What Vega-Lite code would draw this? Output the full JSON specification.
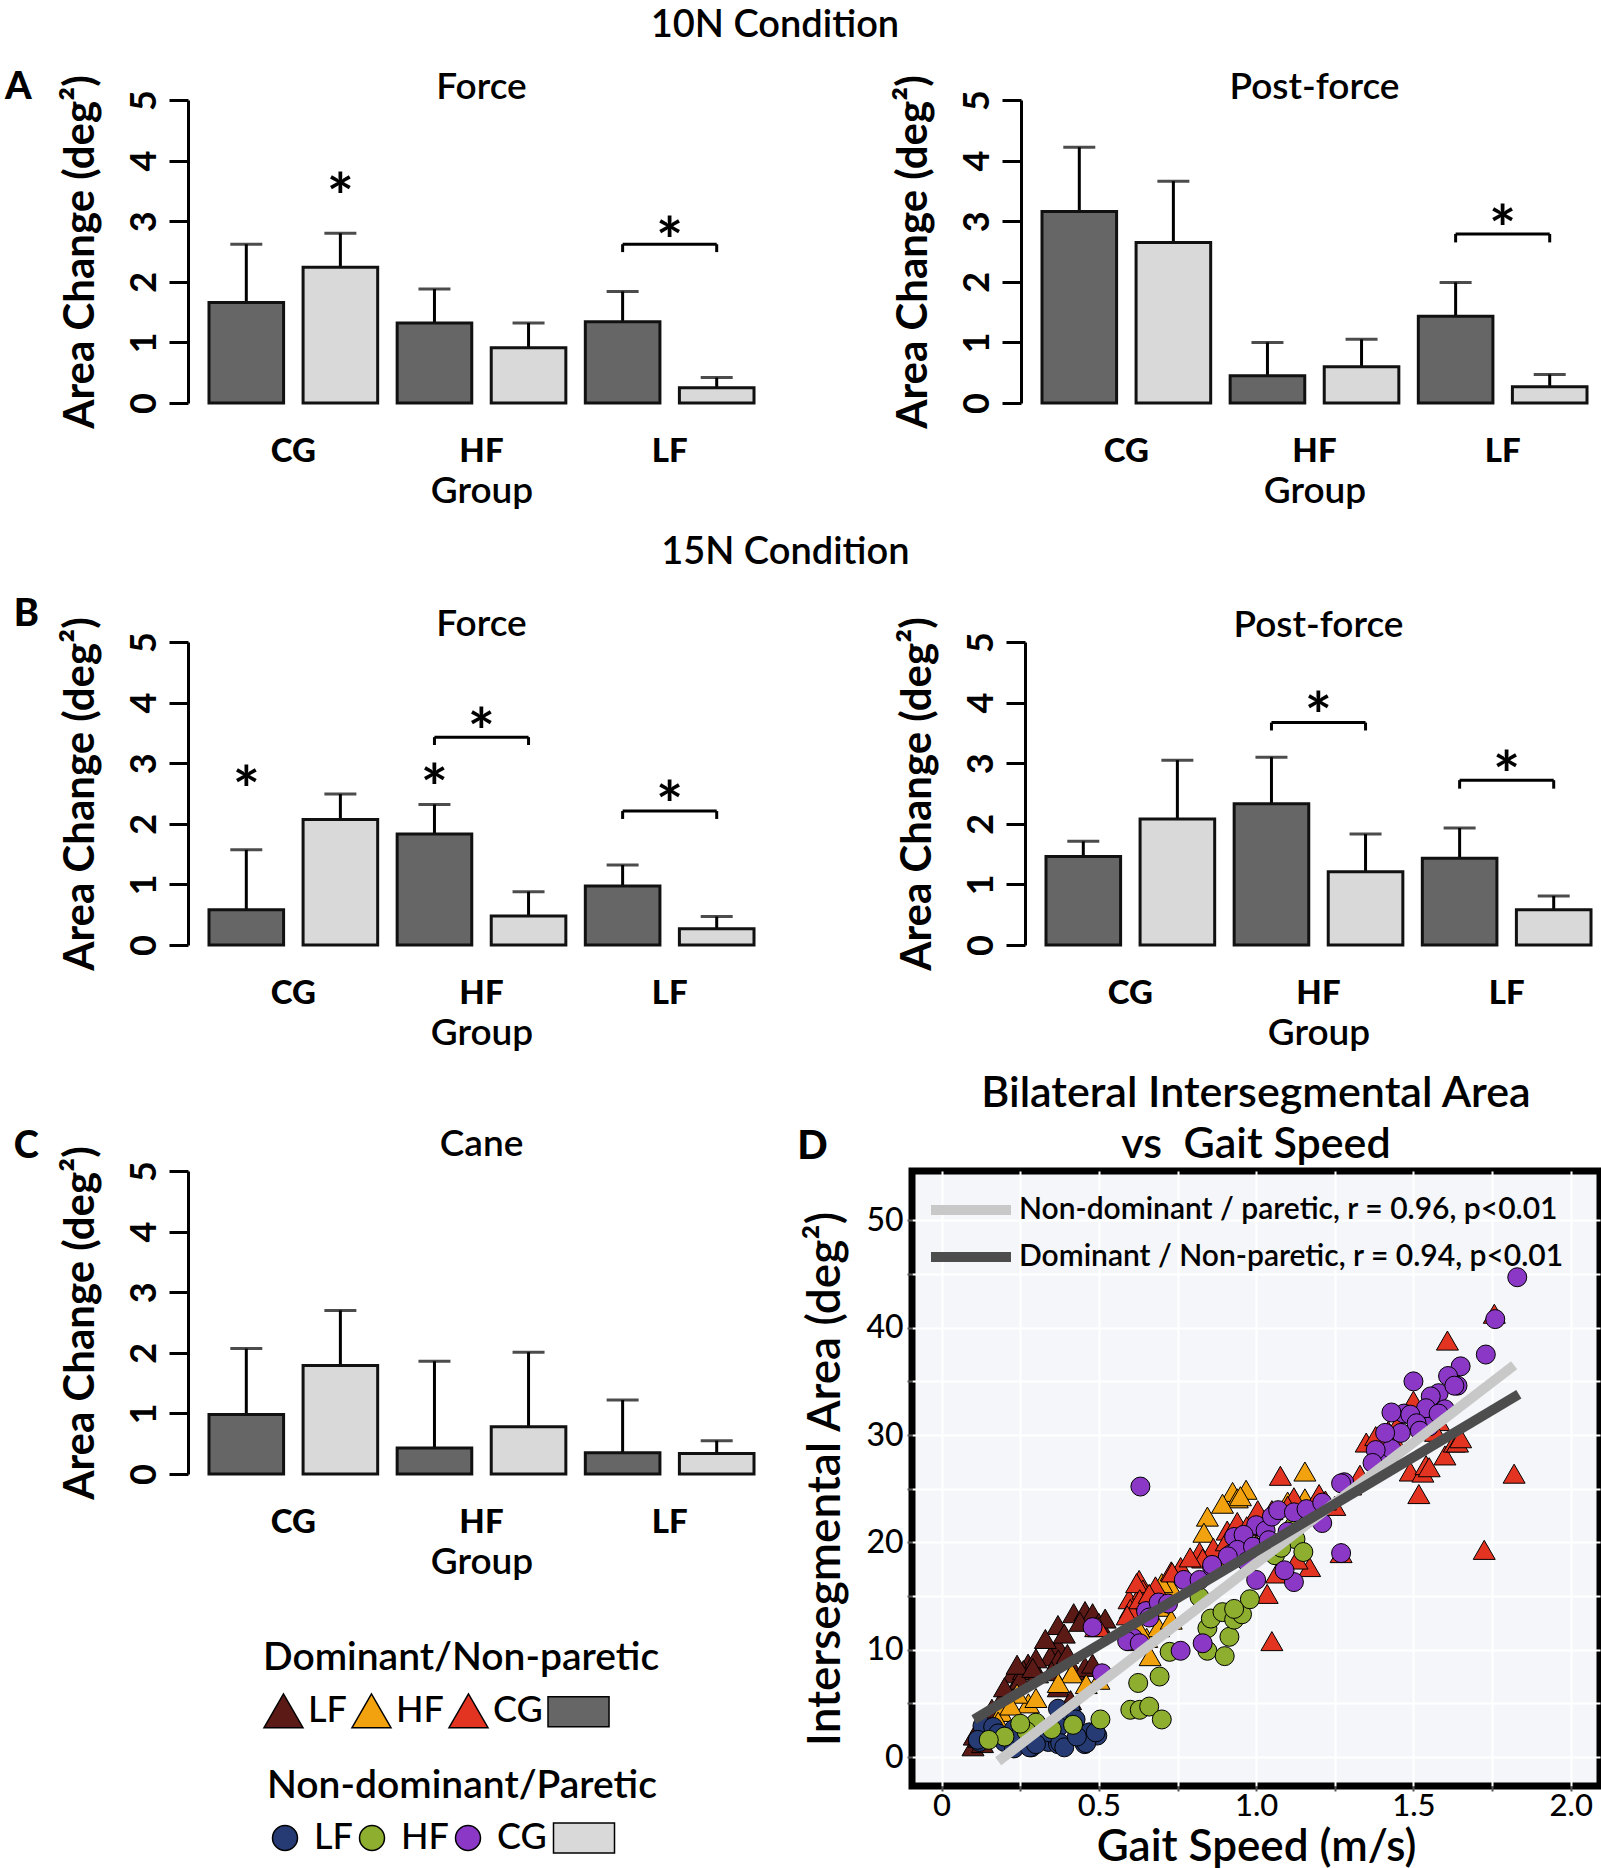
{
"$schema": "https://vega.github.io/schema/vega-lite/v6.json",
"padding": {"left": 4, "top": 6, "right": 0, "bottom": 2},
"spacing": 18,
"config": {"font": "Lato", "view": {"stroke": null}, "axis": {"labelColor": "#000", "titleColor": "#000"}, "title": {"color": "#000"}, "legend": {"labelColor": "#000", "titleColor": "#000"}},
"datasets": {
"bars": [
{"p":"A-F","bar":"CG-D","side":"D","m":1.66,"hi":2.62},{"p":"A-F","bar":"CG-N","side":"N","m":2.24,"hi":2.80},{"p":"A-F","bar":"HF-D","side":"D","m":1.32,"hi":1.88},{"p":"A-F","bar":"HF-N","side":"N","m":0.91,"hi":1.32},{"p":"A-F","bar":"LF-D","side":"D","m":1.34,"hi":1.84},{"p":"A-F","bar":"LF-N","side":"N","m":0.25,"hi":0.42},
{"p":"A-P","bar":"CG-D","side":"D","m":3.16,"hi":4.22},{"p":"A-P","bar":"CG-N","side":"N","m":2.65,"hi":3.66},{"p":"A-P","bar":"HF-D","side":"D","m":0.45,"hi":1.0},{"p":"A-P","bar":"HF-N","side":"N","m":0.60,"hi":1.05},{"p":"A-P","bar":"LF-D","side":"D","m":1.43,"hi":1.99},{"p":"A-P","bar":"LF-N","side":"N","m":0.27,"hi":0.47},
{"p":"B-F","bar":"CG-D","side":"D","m":0.58,"hi":1.57},{"p":"B-F","bar":"CG-N","side":"N","m":2.07,"hi":2.49},{"p":"B-F","bar":"HF-D","side":"D","m":1.83,"hi":2.32},{"p":"B-F","bar":"HF-N","side":"N","m":0.48,"hi":0.88},{"p":"B-F","bar":"LF-D","side":"D","m":0.975,"hi":1.32},{"p":"B-F","bar":"LF-N","side":"N","m":0.27,"hi":0.47},
{"p":"B-P","bar":"CG-D","side":"D","m":1.46,"hi":1.71},{"p":"B-P","bar":"CG-N","side":"N","m":2.08,"hi":3.05},{"p":"B-P","bar":"HF-D","side":"D","m":2.33,"hi":3.10},{"p":"B-P","bar":"HF-N","side":"N","m":1.21,"hi":1.83},{"p":"B-P","bar":"LF-D","side":"D","m":1.43,"hi":1.93},{"p":"B-P","bar":"LF-N","side":"N","m":0.58,"hi":0.81},
{"p":"C","bar":"CG-D","side":"D","m":0.98,"hi":2.07},{"p":"C","bar":"CG-N","side":"N","m":1.79,"hi":2.70},{"p":"C","bar":"HF-D","side":"D","m":0.43,"hi":1.86},{"p":"C","bar":"HF-N","side":"N","m":0.78,"hi":2.01},{"p":"C","bar":"LF-D","side":"D","m":0.35,"hi":1.22},{"p":"C","bar":"LF-N","side":"N","m":0.34,"hi":0.55}
],
"brackets": [
{"p":"A-F","x1":"LF-D","x2":"LF-N","b":2.62,"bt":2.49},
{"p":"A-P","x1":"LF-D","x2":"LF-N","b":2.79,"bt":2.65},
{"p":"B-F","x1":"HF-D","x2":"HF-N","b":3.43,"bt":3.30},
{"p":"B-F","x1":"LF-D","x2":"LF-N","b":2.21,"bt":2.08},
{"p":"B-P","x1":"HF-D","x2":"HF-N","b":3.67,"bt":3.54},
{"p":"B-P","x1":"LF-D","x2":"LF-N","b":2.72,"bt":2.58}
],
"stars": [
{"p":"A-F","bar":"CG-N","sy":3.57,"mid":false},
{"p":"A-F","bar":"LF-D","sy":2.84,"mid":true},
{"p":"A-P","bar":"LF-D","sy":3.03,"mid":true},
{"p":"B-F","bar":"CG-D","sy":2.72,"mid":false},
{"p":"B-F","bar":"HF-D","sy":2.75,"mid":false},
{"p":"B-F","bar":"HF-D","sy":3.68,"mid":true},
{"p":"B-F","bar":"LF-D","sy":2.48,"mid":true},
{"p":"B-P","bar":"HF-D","sy":3.95,"mid":true},
{"p":"B-P","bar":"LF-D","sy":2.97,"mid":true}
],
"letters": [
{"p":"A-F","t":"A","ly":5.25},
{"p":"B-F","t":"B","ly":5.5},
{"p":"C","t":"C","ly":5.45}
],
"fits": [
{"fit":"Non-dominant / paretic, r = 0.96, p<0.01","v":0.18,"a":-0.4},
{"fit":"Non-dominant / paretic, r = 0.96, p<0.01","v":1.82,"a":36.5},
{"fit":"Dominant / Non-paretic, r = 0.94, p<0.01","v":0.103,"a":3.5},
{"fit":"Dominant / Non-paretic, r = 0.94, p<0.01","v":1.835,"a":33.8}
],
"pts": [
{"s":"D","g":"LF","v":0.37,"a":12.3},{"s":"D","g":"LF","v":0.42,"a":13.4},{"s":"D","g":"LF","v":0.456,"a":13.6},{"s":"D","g":"LF","v":0.48,"a":13.4},{"s":"D","g":"LF","v":0.5,"a":12.5},{"s":"D","g":"LF","v":0.371,"a":10.3},{"s":"D","g":"LF","v":0.345,"a":9.4},{"s":"D","g":"LF","v":0.371,"a":9.1},{"s":"D","g":"LF","v":0.275,"a":8.7},{"s":"D","g":"LF","v":0.227,"a":7.8},{"s":"D","g":"LF","v":0.26,"a":8.1},{"s":"D","g":"LF","v":0.305,"a":7.8},{"s":"D","g":"LF","v":0.35,"a":8.0},{"s":"D","g":"LF","v":0.42,"a":8.1},{"s":"D","g":"LF","v":0.456,"a":8.4},{"s":"D","g":"LF","v":0.48,"a":8.7},{"s":"D","g":"LF","v":0.227,"a":6.2},{"s":"D","g":"LF","v":0.19,"a":5.3},{"s":"D","g":"LF","v":0.153,"a":3.8},{"s":"D","g":"LF","v":0.104,"a":2.0},{"s":"D","g":"LF","v":0.1,"a":1.0},{"s":"D","g":"LF","v":0.13,"a":1.3},{"s":"D","g":"LF","v":0.371,"a":6.5},{"s":"D","g":"LF","v":0.41,"a":5.3},{"s":"D","g":"LF","v":0.33,"a":11.0},{"s":"D","g":"LF","v":0.3,"a":9.2},{"s":"D","g":"LF","v":0.25,"a":7.2},{"s":"D","g":"LF","v":0.2,"a":6.5},{"s":"D","g":"LF","v":0.12,"a":1.8},{"s":"D","g":"LF","v":0.16,"a":4.5},{"s":"D","g":"LF","v":0.39,"a":11.5},{"s":"D","g":"LF","v":0.44,"a":12.6},{"s":"D","g":"LF","v":0.52,"a":12.9},{"s":"D","g":"LF","v":0.24,"a":8.6},{"s":"D","g":"LF","v":0.29,"a":8.3},{"s":"D","g":"LF","v":0.4,"a":9.6},
{"s":"D","g":"HF","v":0.925,"a":24.7},{"s":"D","g":"HF","v":0.968,"a":24.9},{"s":"D","g":"HF","v":0.94,"a":24.1},{"s":"D","g":"HF","v":0.893,"a":23.6},{"s":"D","g":"HF","v":0.845,"a":22.4},{"s":"D","g":"HF","v":0.834,"a":20.9},{"s":"D","g":"HF","v":0.728,"a":15.9},{"s":"D","g":"HF","v":0.69,"a":14.0},{"s":"D","g":"HF","v":0.61,"a":14.0},{"s":"D","g":"HF","v":0.652,"a":11.1},{"s":"D","g":"HF","v":0.663,"a":9.4},{"s":"D","g":"HF","v":0.414,"a":7.8},{"s":"D","g":"HF","v":0.371,"a":6.9},{"s":"D","g":"HF","v":0.5,"a":7.2},{"s":"D","g":"HF","v":0.276,"a":5.0},{"s":"D","g":"HF","v":0.24,"a":5.9},{"s":"D","g":"HF","v":0.19,"a":4.2},{"s":"D","g":"HF","v":0.18,"a":3.3},{"s":"D","g":"HF","v":0.69,"a":12.1},{"s":"D","g":"HF","v":1.155,"a":26.6},{"s":"D","g":"HF","v":1.155,"a":24.1},{"s":"D","g":"HF","v":0.95,"a":24.3},{"s":"D","g":"HF","v":0.62,"a":10.8},{"s":"D","g":"HF","v":0.3,"a":5.5},{"s":"D","g":"HF","v":0.22,"a":4.8},{"s":"D","g":"HF","v":0.73,"a":12.8},{"s":"D","g":"HF","v":1.0,"a":22.0},{"s":"D","g":"HF","v":1.1,"a":23.8},{"s":"D","g":"HF","v":0.88,"a":18.5},{"s":"D","g":"HF","v":0.46,"a":6.8},{"s":"D","g":"HF","v":0.63,"a":11.8},{"s":"D","g":"HF","v":0.7,"a":16.2},
{"s":"D","g":"CG","v":0.628,"a":16.5},{"s":"D","g":"CG","v":0.596,"a":14.7},{"s":"D","g":"CG","v":0.6,"a":13.8},{"s":"D","g":"CG","v":0.64,"a":15.6},{"s":"D","g":"CG","v":0.68,"a":15.9},{"s":"D","g":"CG","v":0.76,"a":17.7},{"s":"D","g":"CG","v":0.73,"a":17.3},{"s":"D","g":"CG","v":0.82,"a":19.1},{"s":"D","g":"CG","v":0.864,"a":19.5},{"s":"D","g":"CG","v":0.908,"a":21.1},{"s":"D","g":"CG","v":0.94,"a":21.9},{"s":"D","g":"CG","v":1.005,"a":23.0},{"s":"D","g":"CG","v":1.04,"a":20.5},{"s":"D","g":"CG","v":1.035,"a":15.2},{"s":"D","g":"CG","v":1.05,"a":10.8},{"s":"D","g":"CG","v":0.49,"a":12.1},{"s":"D","g":"CG","v":0.5,"a":12.1},{"s":"D","g":"CG","v":1.077,"a":26.2},{"s":"D","g":"CG","v":1.12,"a":24.2},{"s":"D","g":"CG","v":1.2,"a":24.5},{"s":"D","g":"CG","v":0.83,"a":18.5},{"s":"D","g":"CG","v":1.065,"a":17.1},{"s":"D","g":"CG","v":1.17,"a":17.7},{"s":"D","g":"CG","v":1.27,"a":19.0},{"s":"D","g":"CG","v":1.42,"a":30.4},{"s":"D","g":"CG","v":1.44,"a":29.5},{"s":"D","g":"CG","v":1.4,"a":29.0},{"s":"D","g":"CG","v":1.49,"a":26.6},{"s":"D","g":"CG","v":1.53,"a":26.5},{"s":"D","g":"CG","v":1.54,"a":27.2},{"s":"D","g":"CG","v":1.6,"a":28.1},{"s":"D","g":"CG","v":1.63,"a":29.3},{"s":"D","g":"CG","v":1.517,"a":24.5},{"s":"D","g":"CG","v":1.725,"a":19.3},{"s":"D","g":"CG","v":1.49,"a":32.0},{"s":"D","g":"CG","v":1.58,"a":31.3},{"s":"D","g":"CG","v":1.608,"a":38.8},{"s":"D","g":"CG","v":1.757,"a":41.3},{"s":"D","g":"CG","v":1.82,"a":26.4},{"s":"D","g":"CG","v":1.55,"a":27.0},{"s":"D","g":"CG","v":1.64,"a":29.3},{"s":"D","g":"CG","v":1.35,"a":29.3},{"s":"D","g":"CG","v":1.38,"a":29.9},{"s":"D","g":"CG","v":1.5,"a":33.2},{"s":"D","g":"CG","v":1.33,"a":26.3},{"s":"D","g":"CG","v":1.25,"a":23.4},{"s":"D","g":"CG","v":1.1,"a":23.4},{"s":"D","g":"CG","v":1.05,"a":23.0},{"s":"D","g":"CG","v":0.905,"a":20.1},{"s":"D","g":"CG","v":0.62,"a":16.2},{"s":"D","g":"CG","v":0.63,"a":14.7},{"s":"D","g":"CG","v":0.733,"a":17.2},{"s":"D","g":"CG","v":1.65,"a":29.7},{"s":"D","g":"CG","v":0.97,"a":21.5},{"s":"D","g":"CG","v":1.0,"a":19.8},{"s":"D","g":"CG","v":1.13,"a":18.4},{"s":"D","g":"CG","v":0.59,"a":13.2},{"s":"D","g":"CG","v":0.66,"a":15.2},{"s":"D","g":"CG","v":0.79,"a":18.6},{"s":"D","g":"CG","v":1.22,"a":23.9},{"s":"D","g":"CG","v":1.3,"a":25.3},{"s":"D","g":"CG","v":1.45,"a":31.0},{"s":"D","g":"CG","v":1.57,"a":30.3},
{"s":"N","g":"LF","v":0.13,"a":2.9},{"s":"N","g":"LF","v":0.16,"a":1.9},{"s":"N","g":"LF","v":0.12,"a":1.4},{"s":"N","g":"LF","v":0.23,"a":2.6},{"s":"N","g":"LF","v":0.286,"a":0.9},{"s":"N","g":"LF","v":0.31,"a":1.7},{"s":"N","g":"LF","v":0.34,"a":1.4},{"s":"N","g":"LF","v":0.37,"a":1.2},{"s":"N","g":"LF","v":0.37,"a":4.5},{"s":"N","g":"LF","v":0.41,"a":4.3},{"s":"N","g":"LF","v":0.41,"a":3.2},{"s":"N","g":"LF","v":0.372,"a":2.8},{"s":"N","g":"LF","v":0.445,"a":1.7},{"s":"N","g":"LF","v":0.47,"a":2.3},{"s":"N","g":"LF","v":0.495,"a":2.0},{"s":"N","g":"LF","v":0.455,"a":1.2},{"s":"N","g":"LF","v":0.26,"a":1.4},{"s":"N","g":"LF","v":0.2,"a":1.4},{"s":"N","g":"LF","v":0.23,"a":0.8},{"s":"N","g":"LF","v":0.343,"a":2.3},{"s":"N","g":"LF","v":0.115,"a":1.6},{"s":"N","g":"LF","v":0.164,"a":2.8},{"s":"N","g":"LF","v":0.28,"a":0.9},{"s":"N","g":"LF","v":0.377,"a":1.3},{"s":"N","g":"LF","v":0.426,"a":3.5},{"s":"N","g":"LF","v":0.46,"a":1.3},{"s":"N","g":"LF","v":0.49,"a":2.3},{"s":"N","g":"LF","v":0.25,"a":2.0},{"s":"N","g":"LF","v":0.3,"a":1.2},{"s":"N","g":"LF","v":0.18,"a":2.2},{"s":"N","g":"LF","v":0.39,"a":0.9},{"s":"N","g":"LF","v":0.43,"a":1.9},
{"s":"N","g":"HF","v":0.2,"a":1.9},{"s":"N","g":"HF","v":0.15,"a":1.6},{"s":"N","g":"HF","v":0.3,"a":3.2},{"s":"N","g":"HF","v":0.418,"a":3.0},{"s":"N","g":"HF","v":0.505,"a":3.5},{"s":"N","g":"HF","v":0.6,"a":4.4},{"s":"N","g":"HF","v":0.63,"a":4.4},{"s":"N","g":"HF","v":0.66,"a":4.7},{"s":"N","g":"HF","v":0.7,"a":3.5},{"s":"N","g":"HF","v":0.625,"a":6.9},{"s":"N","g":"HF","v":0.693,"a":7.5},{"s":"N","g":"HF","v":0.725,"a":9.8},{"s":"N","g":"HF","v":0.845,"a":9.9},{"s":"N","g":"HF","v":0.9,"a":9.4},{"s":"N","g":"HF","v":0.915,"a":11.2},{"s":"N","g":"HF","v":0.845,"a":12.0},{"s":"N","g":"HF","v":0.856,"a":12.9},{"s":"N","g":"HF","v":0.893,"a":13.5},{"s":"N","g":"HF","v":0.93,"a":12.8},{"s":"N","g":"HF","v":0.955,"a":13.3},{"s":"N","g":"HF","v":0.98,"a":14.7},{"s":"N","g":"HF","v":0.93,"a":13.8},{"s":"N","g":"HF","v":0.82,"a":14.9},{"s":"N","g":"HF","v":1.06,"a":18.8},{"s":"N","g":"HF","v":1.125,"a":20.3},{"s":"N","g":"HF","v":1.15,"a":19.1},{"s":"N","g":"HF","v":1.08,"a":19.5},{"s":"N","g":"HF","v":0.27,"a":2.4},{"s":"N","g":"HF","v":0.35,"a":2.6},{"s":"N","g":"HF","v":0.25,"a":3.1},{"s":"N","g":"HF","v":1.12,"a":21.5},{"s":"N","g":"HF","v":1.0,"a":19.5},
{"s":"N","g":"CG","v":0.632,"a":25.2},{"s":"N","g":"CG","v":0.48,"a":12.1},{"s":"N","g":"CG","v":0.51,"a":7.8},{"s":"N","g":"CG","v":0.65,"a":13.6},{"s":"N","g":"CG","v":0.69,"a":14.4},{"s":"N","g":"CG","v":0.608,"a":11.1},{"s":"N","g":"CG","v":0.59,"a":10.8},{"s":"N","g":"CG","v":0.63,"a":10.6},{"s":"N","g":"CG","v":0.77,"a":16.5},{"s":"N","g":"CG","v":0.82,"a":16.5},{"s":"N","g":"CG","v":0.86,"a":17.7},{"s":"N","g":"CG","v":0.92,"a":18.9},{"s":"N","g":"CG","v":0.94,"a":20.4},{"s":"N","g":"CG","v":1.0,"a":21.6},{"s":"N","g":"CG","v":1.0,"a":16.5},{"s":"N","g":"CG","v":0.83,"a":10.6},{"s":"N","g":"CG","v":0.76,"a":9.9},{"s":"N","g":"CG","v":0.93,"a":20.5},{"s":"N","g":"CG","v":0.96,"a":20.7},{"s":"N","g":"CG","v":1.03,"a":21.1},{"s":"N","g":"CG","v":1.05,"a":22.4},{"s":"N","g":"CG","v":1.07,"a":23.0},{"s":"N","g":"CG","v":1.12,"a":22.8},{"s":"N","g":"CG","v":1.16,"a":23.1},{"s":"N","g":"CG","v":1.21,"a":23.7},{"s":"N","g":"CG","v":1.21,"a":21.8},{"s":"N","g":"CG","v":0.94,"a":19.3},{"s":"N","g":"CG","v":0.99,"a":19.6},{"s":"N","g":"CG","v":0.91,"a":18.7},{"s":"N","g":"CG","v":0.86,"a":17.9},{"s":"N","g":"CG","v":1.12,"a":16.3},{"s":"N","g":"CG","v":1.09,"a":17.4},{"s":"N","g":"CG","v":1.27,"a":19.0},{"s":"N","g":"CG","v":1.28,"a":25.6},{"s":"N","g":"CG","v":1.42,"a":27.5},{"s":"N","g":"CG","v":1.43,"a":28.7},{"s":"N","g":"CG","v":1.46,"a":30.2},{"s":"N","g":"CG","v":1.47,"a":32.0},{"s":"N","g":"CG","v":1.53,"a":31.7},{"s":"N","g":"CG","v":1.55,"a":30.8},{"s":"N","g":"CG","v":1.55,"a":32.6},{"s":"N","g":"CG","v":1.58,"a":33.9},{"s":"N","g":"CG","v":1.6,"a":32.4},{"s":"N","g":"CG","v":1.5,"a":35.0},{"s":"N","g":"CG","v":1.64,"a":34.6},{"s":"N","g":"CG","v":1.83,"a":44.7},{"s":"N","g":"CG","v":1.76,"a":40.8},{"s":"N","g":"CG","v":1.73,"a":37.5},{"s":"N","g":"CG","v":1.65,"a":36.4},{"s":"N","g":"CG","v":1.61,"a":35.5},{"s":"N","g":"CG","v":1.63,"a":34.6},{"s":"N","g":"CG","v":1.555,"a":33.6},{"s":"N","g":"CG","v":1.43,"a":32.1},{"s":"N","g":"CG","v":1.54,"a":32.5},{"s":"N","g":"CG","v":1.58,"a":32.0},{"s":"N","g":"CG","v":1.49,"a":31.9},{"s":"N","g":"CG","v":1.51,"a":31.1},{"s":"N","g":"CG","v":1.52,"a":30.4},{"s":"N","g":"CG","v":1.41,"a":30.2},{"s":"N","g":"CG","v":1.38,"a":28.6},{"s":"N","g":"CG","v":1.37,"a":27.4},{"s":"N","g":"CG","v":1.27,"a":25.5},{"s":"N","g":"CG","v":0.97,"a":18.2},{"s":"N","g":"CG","v":1.04,"a":20.2},{"s":"N","g":"CG","v":1.1,"a":21.0},{"s":"N","g":"CG","v":0.72,"a":14.3},{"s":"N","g":"CG","v":0.66,"a":13.0}
]
},
"vconcat": [
{
"spacing": 24,
"vconcat": [
{
"title": {"text": "10N Condition", "fontSize": 38, "fontWeight": 600, "anchor": "middle", "dx": -29, "offset": 24},
"spacing": 121,
"hconcat": [
{
"width": 577, "height": 303,
"title": {"text": "Force", "fontSize": 37, "fontWeight": 600, "offset": -38},
"layer": [
{"data": {"name": "bars"}, "transform": [{"filter": "datum.p == 'A-F'"}], "mark": {"type": "rule", "strokeWidth": 3, "color": "#000"},
 "encoding": {
  "x": {"field": "bar", "type": "nominal", "title": "Group", "scale": {"domain": ["CG-D","CG-N","HF-D","HF-N","LF-D","LF-N"], "paddingInner": 0.207, "paddingOuter": 0.17},
        "axis": {"labelExpr": "datum.value == 'CG-D' ? 'CG' : datum.value == 'HF-D' ? 'HF' : datum.value == 'LF-D' ? 'LF' : ''", "labelOffset": 47, "labelAngle": 0, "domain": false, "ticks": false, "labelFontSize": 33, "labelFontWeight": 900, "labelPadding": 32, "titleFontSize": 37, "titleFontWeight": 600, "titlePadding": 5}},
  "y": {"field": "m", "type": "quantitative", "title": "Area Change (deg²)", "scale": {"domain": [0, 5], "nice": false},
        "axis": {"values": [0,1,2,3,4,5], "format": "d", "grid": false, "offset": 5, "labelAngle": -90, "labelAlign": "center", "labelBaseline": "alphabetic", "labelFontSize": 36, "labelFontWeight": 700, "labelPadding": 14, "tickSize": 19, "tickWidth": 3, "tickColor": "#000", "domainWidth": 3, "domainColor": "#000", "titleFontSize": 42, "titleFontWeight": 700, "titlePadding": 24}},
  "y2": {"field": "hi"}}},
{"data": {"name": "bars"}, "transform": [{"filter": "datum.p == 'A-F'"}], "mark": {"type": "tick", "size": 32, "thickness": 3, "color": "#000", "orient": "horizontal"},
 "encoding": {"x": {"field": "bar", "type": "nominal", "title": "Group"}, "y": {"field": "hi", "type": "quantitative", "title": "Area Change (deg²)"}}},
{"data": {"name": "bars"}, "transform": [{"filter": "datum.p == 'A-F'"}], "mark": {"type": "bar", "stroke": "#111", "strokeWidth": 3},
 "encoding": {"x": {"field": "bar", "type": "nominal", "title": "Group"}, "y": {"field": "m", "type": "quantitative", "title": "Area Change (deg²)"},
  "fill": {"field": "side", "type": "nominal", "scale": {"domain": ["D","N"], "range": ["#666666","#d9d9d9"]}, "legend": null}}},
{"data": {"name": "brackets"}, "transform": [{"filter": "datum.p == 'A-F'"}], "mark": {"type": "rule", "strokeWidth": 3, "color": "#000"},
 "encoding": {"x": {"field": "x1", "type": "nominal", "title": "Group"}, "x2": {"field": "x2"}, "y": {"field": "b", "type": "quantitative", "title": "Area Change (deg²)"}}},
{"data": {"name": "brackets"}, "transform": [{"filter": "datum.p == 'A-F'"}], "mark": {"type": "rule", "strokeWidth": 3, "color": "#000"},
 "encoding": {"x": {"field": "x1", "type": "nominal", "title": "Group"}, "y": {"field": "b", "type": "quantitative", "title": "Area Change (deg²)"}, "y2": {"field": "bt"}}},
{"data": {"name": "brackets"}, "transform": [{"filter": "datum.p == 'A-F'"}], "mark": {"type": "rule", "strokeWidth": 3, "color": "#000"},
 "encoding": {"x": {"field": "x2", "type": "nominal", "title": "Group"}, "y": {"field": "b", "type": "quantitative", "title": "Area Change (deg²)"}, "y2": {"field": "bt"}}},
{"data": {"name": "stars"}, "transform": [{"filter": "datum.p == 'A-F' && !datum.mid"}], "mark": {"type": "text", "text": "*", "fontSize": 64, "fontWeight": 700, "baseline": "alphabetic", "dy": 33},
 "encoding": {"x": {"field": "bar", "type": "nominal", "title": "Group"}, "y": {"field": "sy", "type": "quantitative", "title": "Area Change (deg²)"}}},
{"data": {"name": "stars"}, "transform": [{"filter": "datum.p == 'A-F' && datum.mid"}], "mark": {"type": "text", "text": "*", "fontSize": 64, "fontWeight": 700, "baseline": "alphabetic", "dy": 33},
 "encoding": {"x": {"field": "bar", "type": "nominal", "title": "Group", "bandPosition": 1.13}, "y": {"field": "sy", "type": "quantitative", "title": "Area Change (deg²)"}}},
{"data": {"name": "letters"}, "transform": [{"filter": "datum.p == 'A-F'"}], "mark": {"type": "text", "fontSize": 38, "fontWeight": 900, "baseline": "alphabetic", "dy": 14, "dx": -228, "align": "center"},
 "encoding": {"x": {"datum": "CG-D", "type": "nominal", "title": "Group"}, "y": {"field": "ly", "type": "quantitative", "title": "Area Change (deg²)"}, "text": {"field": "t"}}}
]
},
{
"width": 577, "height": 303,
"title": {"text": "Post-force", "fontSize": 37, "fontWeight": 600, "offset": -32},
"layer": [
{"data": {"name": "bars"}, "transform": [{"filter": "datum.p == 'A-P'"}], "mark": {"type": "rule", "strokeWidth": 3, "color": "#000"},
 "encoding": {
  "x": {"field": "bar", "type": "nominal", "title": "Group", "scale": {"domain": ["CG-D","CG-N","HF-D","HF-N","LF-D","LF-N"], "paddingInner": 0.207, "paddingOuter": 0.17},
        "axis": {"labelExpr": "datum.value == 'CG-D' ? 'CG' : datum.value == 'HF-D' ? 'HF' : datum.value == 'LF-D' ? 'LF' : ''", "labelOffset": 47, "labelAngle": 0, "domain": false, "ticks": false, "labelFontSize": 33, "labelFontWeight": 900, "labelPadding": 32, "titleFontSize": 37, "titleFontWeight": 600, "titlePadding": 5}},
  "y": {"field": "m", "type": "quantitative", "title": "Area Change (deg²)", "scale": {"domain": [0, 5], "nice": false},
        "axis": {"values": [0,1,2,3,4,5], "format": "d", "grid": false, "offset": 5, "labelAngle": -90, "labelAlign": "center", "labelBaseline": "alphabetic", "labelFontSize": 36, "labelFontWeight": 700, "labelPadding": 14, "tickSize": 19, "tickWidth": 3, "tickColor": "#000", "domainWidth": 3, "domainColor": "#000", "titleFontSize": 42, "titleFontWeight": 700, "titlePadding": 24}},
  "y2": {"field": "hi"}}},
{"data": {"name": "bars"}, "transform": [{"filter": "datum.p == 'A-P'"}], "mark": {"type": "tick", "size": 32, "thickness": 3, "color": "#000", "orient": "horizontal"},
 "encoding": {"x": {"field": "bar", "type": "nominal", "title": "Group"}, "y": {"field": "hi", "type": "quantitative", "title": "Area Change (deg²)"}}},
{"data": {"name": "bars"}, "transform": [{"filter": "datum.p == 'A-P'"}], "mark": {"type": "bar", "stroke": "#111", "strokeWidth": 3},
 "encoding": {"x": {"field": "bar", "type": "nominal", "title": "Group"}, "y": {"field": "m", "type": "quantitative", "title": "Area Change (deg²)"},
  "fill": {"field": "side", "type": "nominal", "scale": {"domain": ["D","N"], "range": ["#666666","#d9d9d9"]}, "legend": null}}},
{"data": {"name": "brackets"}, "transform": [{"filter": "datum.p == 'A-P'"}], "mark": {"type": "rule", "strokeWidth": 3, "color": "#000"},
 "encoding": {"x": {"field": "x1", "type": "nominal", "title": "Group"}, "x2": {"field": "x2"}, "y": {"field": "b", "type": "quantitative", "title": "Area Change (deg²)"}}},
{"data": {"name": "brackets"}, "transform": [{"filter": "datum.p == 'A-P'"}], "mark": {"type": "rule", "strokeWidth": 3, "color": "#000"},
 "encoding": {"x": {"field": "x1", "type": "nominal", "title": "Group"}, "y": {"field": "b", "type": "quantitative", "title": "Area Change (deg²)"}, "y2": {"field": "bt"}}},
{"data": {"name": "brackets"}, "transform": [{"filter": "datum.p == 'A-P'"}], "mark": {"type": "rule", "strokeWidth": 3, "color": "#000"},
 "encoding": {"x": {"field": "x2", "type": "nominal", "title": "Group"}, "y": {"field": "b", "type": "quantitative", "title": "Area Change (deg²)"}, "y2": {"field": "bt"}}},
{"data": {"name": "stars"}, "transform": [{"filter": "datum.p == 'A-P' && datum.mid"}], "mark": {"type": "text", "text": "*", "fontSize": 64, "fontWeight": 700, "baseline": "alphabetic", "dy": 33},
 "encoding": {"x": {"field": "bar", "type": "nominal", "title": "Group", "bandPosition": 1.13}, "y": {"field": "sy", "type": "quantitative", "title": "Area Change (deg²)"}}}
]
}
]
},
{
"title": {"text": "15N Condition", "fontSize": 38, "fontWeight": 600, "anchor": "middle", "dx": -25, "offset": 24},
"spacing": 125,
"hconcat": [
{
"width": 577, "height": 303,
"title": {"text": "Force", "fontSize": 37, "fontWeight": 600, "offset": -48},
"layer": [
{"data": {"name": "bars"}, "transform": [{"filter": "datum.p == 'B-F'"}], "mark": {"type": "rule", "strokeWidth": 3, "color": "#000"},
 "encoding": {
  "x": {"field": "bar", "type": "nominal", "title": "Group", "scale": {"domain": ["CG-D","CG-N","HF-D","HF-N","LF-D","LF-N"], "paddingInner": 0.207, "paddingOuter": 0.17},
        "axis": {"labelExpr": "datum.value == 'CG-D' ? 'CG' : datum.value == 'HF-D' ? 'HF' : datum.value == 'LF-D' ? 'LF' : ''", "labelOffset": 47, "labelAngle": 0, "domain": false, "ticks": false, "labelFontSize": 33, "labelFontWeight": 900, "labelPadding": 32, "titleFontSize": 37, "titleFontWeight": 600, "titlePadding": 5}},
  "y": {"field": "m", "type": "quantitative", "title": "Area Change (deg²)", "scale": {"domain": [0, 5], "nice": false},
        "axis": {"values": [0,1,2,3,4,5], "format": "d", "grid": false, "offset": 5, "labelAngle": -90, "labelAlign": "center", "labelBaseline": "alphabetic", "labelFontSize": 36, "labelFontWeight": 700, "labelPadding": 14, "tickSize": 19, "tickWidth": 3, "tickColor": "#000", "domainWidth": 3, "domainColor": "#000", "titleFontSize": 42, "titleFontWeight": 700, "titlePadding": 24}},
  "y2": {"field": "hi"}}},
{"data": {"name": "bars"}, "transform": [{"filter": "datum.p == 'B-F'"}], "mark": {"type": "tick", "size": 32, "thickness": 3, "color": "#000", "orient": "horizontal"},
 "encoding": {"x": {"field": "bar", "type": "nominal", "title": "Group"}, "y": {"field": "hi", "type": "quantitative", "title": "Area Change (deg²)"}}},
{"data": {"name": "bars"}, "transform": [{"filter": "datum.p == 'B-F'"}], "mark": {"type": "bar", "stroke": "#111", "strokeWidth": 3},
 "encoding": {"x": {"field": "bar", "type": "nominal", "title": "Group"}, "y": {"field": "m", "type": "quantitative", "title": "Area Change (deg²)"},
  "fill": {"field": "side", "type": "nominal", "scale": {"domain": ["D","N"], "range": ["#666666","#d9d9d9"]}, "legend": null}}},
{"data": {"name": "brackets"}, "transform": [{"filter": "datum.p == 'B-F'"}], "mark": {"type": "rule", "strokeWidth": 3, "color": "#000"},
 "encoding": {"x": {"field": "x1", "type": "nominal", "title": "Group"}, "x2": {"field": "x2"}, "y": {"field": "b", "type": "quantitative", "title": "Area Change (deg²)"}}},
{"data": {"name": "brackets"}, "transform": [{"filter": "datum.p == 'B-F'"}], "mark": {"type": "rule", "strokeWidth": 3, "color": "#000"},
 "encoding": {"x": {"field": "x1", "type": "nominal", "title": "Group"}, "y": {"field": "b", "type": "quantitative", "title": "Area Change (deg²)"}, "y2": {"field": "bt"}}},
{"data": {"name": "brackets"}, "transform": [{"filter": "datum.p == 'B-F'"}], "mark": {"type": "rule", "strokeWidth": 3, "color": "#000"},
 "encoding": {"x": {"field": "x2", "type": "nominal", "title": "Group"}, "y": {"field": "b", "type": "quantitative", "title": "Area Change (deg²)"}, "y2": {"field": "bt"}}},
{"data": {"name": "stars"}, "transform": [{"filter": "datum.p == 'B-F' && !datum.mid"}], "mark": {"type": "text", "text": "*", "fontSize": 64, "fontWeight": 700, "baseline": "alphabetic", "dy": 33},
 "encoding": {"x": {"field": "bar", "type": "nominal", "title": "Group"}, "y": {"field": "sy", "type": "quantitative", "title": "Area Change (deg²)"}}},
{"data": {"name": "stars"}, "transform": [{"filter": "datum.p == 'B-F' && datum.mid"}], "mark": {"type": "text", "text": "*", "fontSize": 64, "fontWeight": 700, "baseline": "alphabetic", "dy": 33},
 "encoding": {"x": {"field": "bar", "type": "nominal", "title": "Group", "bandPosition": 1.13}, "y": {"field": "sy", "type": "quantitative", "title": "Area Change (deg²)"}}},
{"data": {"name": "letters"}, "transform": [{"filter": "datum.p == 'B-F'"}], "mark": {"type": "text", "fontSize": 38, "fontWeight": 900, "baseline": "alphabetic", "dy": 14, "dx": -220, "align": "center"},
 "encoding": {"x": {"datum": "CG-D", "type": "nominal", "title": "Group"}, "y": {"field": "ly", "type": "quantitative", "title": "Area Change (deg²)"}, "text": {"field": "t"}}}
]
},
{
"width": 577, "height": 303,
"title": {"text": "Post-force", "fontSize": 37, "fontWeight": 600, "offset": -28},
"layer": [
{"data": {"name": "bars"}, "transform": [{"filter": "datum.p == 'B-P'"}], "mark": {"type": "rule", "strokeWidth": 3, "color": "#000"},
 "encoding": {
  "x": {"field": "bar", "type": "nominal", "title": "Group", "scale": {"domain": ["CG-D","CG-N","HF-D","HF-N","LF-D","LF-N"], "paddingInner": 0.207, "paddingOuter": 0.17},
        "axis": {"labelExpr": "datum.value == 'CG-D' ? 'CG' : datum.value == 'HF-D' ? 'HF' : datum.value == 'LF-D' ? 'LF' : ''", "labelOffset": 47, "labelAngle": 0, "domain": false, "ticks": false, "labelFontSize": 33, "labelFontWeight": 900, "labelPadding": 32, "titleFontSize": 37, "titleFontWeight": 600, "titlePadding": 5}},
  "y": {"field": "m", "type": "quantitative", "title": "Area Change (deg²)", "scale": {"domain": [0, 5], "nice": false},
        "axis": {"values": [0,1,2,3,4,5], "format": "d", "grid": false, "offset": 5, "labelAngle": -90, "labelAlign": "center", "labelBaseline": "alphabetic", "labelFontSize": 36, "labelFontWeight": 700, "labelPadding": 14, "tickSize": 19, "tickWidth": 3, "tickColor": "#000", "domainWidth": 3, "domainColor": "#000", "titleFontSize": 42, "titleFontWeight": 700, "titlePadding": 24}},
  "y2": {"field": "hi"}}},
{"data": {"name": "bars"}, "transform": [{"filter": "datum.p == 'B-P'"}], "mark": {"type": "tick", "size": 32, "thickness": 3, "color": "#000", "orient": "horizontal"},
 "encoding": {"x": {"field": "bar", "type": "nominal", "title": "Group"}, "y": {"field": "hi", "type": "quantitative", "title": "Area Change (deg²)"}}},
{"data": {"name": "bars"}, "transform": [{"filter": "datum.p == 'B-P'"}], "mark": {"type": "bar", "stroke": "#111", "strokeWidth": 3},
 "encoding": {"x": {"field": "bar", "type": "nominal", "title": "Group"}, "y": {"field": "m", "type": "quantitative", "title": "Area Change (deg²)"},
  "fill": {"field": "side", "type": "nominal", "scale": {"domain": ["D","N"], "range": ["#666666","#d9d9d9"]}, "legend": null}}},
{"data": {"name": "brackets"}, "transform": [{"filter": "datum.p == 'B-P'"}], "mark": {"type": "rule", "strokeWidth": 3, "color": "#000"},
 "encoding": {"x": {"field": "x1", "type": "nominal", "title": "Group"}, "x2": {"field": "x2"}, "y": {"field": "b", "type": "quantitative", "title": "Area Change (deg²)"}}},
{"data": {"name": "brackets"}, "transform": [{"filter": "datum.p == 'B-P'"}], "mark": {"type": "rule", "strokeWidth": 3, "color": "#000"},
 "encoding": {"x": {"field": "x1", "type": "nominal", "title": "Group"}, "y": {"field": "b", "type": "quantitative", "title": "Area Change (deg²)"}, "y2": {"field": "bt"}}},
{"data": {"name": "brackets"}, "transform": [{"filter": "datum.p == 'B-P'"}], "mark": {"type": "rule", "strokeWidth": 3, "color": "#000"},
 "encoding": {"x": {"field": "x2", "type": "nominal", "title": "Group"}, "y": {"field": "b", "type": "quantitative", "title": "Area Change (deg²)"}, "y2": {"field": "bt"}}},
{"data": {"name": "stars"}, "transform": [{"filter": "datum.p == 'B-P' && datum.mid"}], "mark": {"type": "text", "text": "*", "fontSize": 64, "fontWeight": 700, "baseline": "alphabetic", "dy": 33},
 "encoding": {"x": {"field": "bar", "type": "nominal", "title": "Group", "bandPosition": 1.13}, "y": {"field": "sy", "type": "quantitative", "title": "Area Change (deg²)"}}}
]
}
]
}
]
},
{
"bounds": "flush",
"spacing": 142,
"hconcat": [
{
"width": 577, "height": 303,
"title": {"text": "Cane", "fontSize": 37, "fontWeight": 600, "offset": -36},
"layer": [
{"data": {"name": "bars"}, "transform": [{"filter": "datum.p == 'C'"}], "mark": {"type": "rule", "strokeWidth": 3, "color": "#000"},
 "encoding": {
  "x": {"field": "bar", "type": "nominal", "title": "Group", "scale": {"domain": ["CG-D","CG-N","HF-D","HF-N","LF-D","LF-N"], "paddingInner": 0.207, "paddingOuter": 0.17},
        "axis": {"labelExpr": "datum.value == 'CG-D' ? 'CG' : datum.value == 'HF-D' ? 'HF' : datum.value == 'LF-D' ? 'LF' : ''", "labelOffset": 47, "labelAngle": 0, "domain": false, "ticks": false, "labelFontSize": 33, "labelFontWeight": 900, "labelPadding": 32, "titleFontSize": 37, "titleFontWeight": 600, "titlePadding": 5}},
  "y": {"field": "m", "type": "quantitative", "title": "Area Change (deg²)", "scale": {"domain": [0, 5], "nice": false},
        "axis": {"values": [0,1,2,3,4,5], "format": "d", "grid": false, "offset": 5, "labelAngle": -90, "labelAlign": "center", "labelBaseline": "alphabetic", "labelFontSize": 36, "labelFontWeight": 700, "labelPadding": 14, "tickSize": 19, "tickWidth": 3, "tickColor": "#000", "domainWidth": 3, "domainColor": "#000", "titleFontSize": 42, "titleFontWeight": 700, "titlePadding": 24}},
  "y2": {"field": "hi"}}},
{"data": {"name": "bars"}, "transform": [{"filter": "datum.p == 'C'"}], "mark": {"type": "tick", "size": 32, "thickness": 3, "color": "#000", "orient": "horizontal"},
 "encoding": {"x": {"field": "bar", "type": "nominal", "title": "Group"}, "y": {"field": "hi", "type": "quantitative", "title": "Area Change (deg²)"}}},
{"data": {"name": "bars"}, "transform": [{"filter": "datum.p == 'C'"}], "mark": {"type": "bar", "stroke": "#111", "strokeWidth": 3},
 "encoding": {"x": {"field": "bar", "type": "nominal", "title": "Group"}, "y": {"field": "m", "type": "quantitative", "title": "Area Change (deg²)"},
  "fill": {"field": "side", "type": "nominal", "scale": {"domain": ["D","N"], "range": ["#666666","#d9d9d9"]}, "legend": null}}},
{"data": {"name": "letters"}, "transform": [{"filter": "datum.p == 'C'"}], "mark": {"type": "text", "fontSize": 38, "fontWeight": 900, "baseline": "alphabetic", "dy": 14, "dx": -220, "align": "center"},
 "encoding": {"x": {"datum": "CG-D", "type": "nominal", "title": "Group"}, "y": {"field": "ly", "type": "quantitative", "title": "Area Change (deg²)"}, "text": {"field": "t"}}}
]
},
{
"width": 688, "height": 615,
"title": {"text": ["Bilateral Intersegmental Area", "vs \u00a0Gait Speed"], "fontSize": 43, "fontWeight": 600, "lineHeight": 51, "offset": -40},
"view": {"stroke": "#000", "strokeWidth": 7, "fill": "#f4f6f9"},
"layer": [
{"data": {"name": "pts"}, "transform": [{"filter": "datum.s == 'D'"}],
 "mark": {"type": "point", "filled": true, "size": 484, "stroke": "#000", "strokeWidth": 1, "opacity": 1},
 "encoding": {
  "x": {"field": "v", "type": "quantitative", "title": "Gait Speed (m/s)", "scale": {"domain": [-0.094, 2.093], "nice": false, "zero": false},
        "axis": {"values": [0,0.25,0.5,0.75,1,1.25,1.5,1.75,2], "labelExpr": "datum.value == 0 ? '0' : (datum.value * 2) % 1 == 0 ? format(datum.value, '.1f') : ''", "grid": true, "gridColor": "#ffffff", "gridWidth": 2, "domain": false, "tickSize": 5, "tickColor": "#555", "tickWidth": 2, "labelFontSize": 31, "labelFontWeight": 500, "labelPadding": 0, "labelFlush": false, "titleFontSize": 44, "titleFontWeight": 600, "titlePadding": 4}},
  "y": {"field": "a", "type": "quantitative", "title": "Intersegmental Area (deg²)", "scale": {"domain": [-2.7, 54.6], "nice": false, "zero": false},
        "axis": {"values": [0,5,10,15,20,25,30,35,40,45,50], "labelExpr": "datum.value % 10 == 0 ? datum.label : ''", "grid": true, "gridColor": "#ffffff", "gridWidth": 2, "domain": false, "tickSize": 5, "tickColor": "#555", "tickWidth": 2, "labelFontSize": 32, "labelFontWeight": 500, "labelPadding": 4, "labelFlush": false, "titleFontSize": 46, "titleFontWeight": 600, "titlePadding": 16}},
  "fill": {"field": "g", "type": "nominal", "scale": {"domain": ["LF","HF","CG","bar"], "range": ["#5b1a16","#f2a20f","#e33422","#666666"]},
        "legend": {"title": "Dominant/Non-paretic", "orient": "none", "legendX": -649, "legendY": 468, "direction": "horizontal", "padding": 0, "titleFontSize": 39, "titleFontWeight": 600, "titlePadding": 12, "titleLimit": 1000, "labelFontSize": 36, "labelFontWeight": 500, "labelOffset": 4, "columnPadding": 2, "symbolSize": 1521, "symbolStrokeColor": "#000", "symbolStrokeWidth": 1.5, "symbolOpacity": 1, "labelExpr": "datum.label == 'bar' ? '' : datum.label", "encode": {"symbols": {"update": {"size": {"value": 1521}}}}}},
  "shape": {"field": "g", "type": "nominal", "scale": {"domain": ["LF","HF","CG","bar"], "range": ["triangle-up","triangle-up","triangle-up","M-1,-0.77H2.13V0.77H-1Z"]},
        "legend": {"title": "Dominant/Non-paretic", "orient": "none", "legendX": -649, "legendY": 468, "direction": "horizontal", "padding": 0, "titleFontSize": 39, "titleFontWeight": 600, "titlePadding": 12, "titleLimit": 1000, "labelFontSize": 36, "labelFontWeight": 500, "labelOffset": 4, "columnPadding": 2, "symbolSize": 1521, "symbolStrokeColor": "#000", "symbolStrokeWidth": 1.5, "symbolOpacity": 1, "labelExpr": "datum.label == 'bar' ? '' : datum.label", "encode": {"symbols": {"update": {"size": {"value": 1521}}}}}}}},
{"data": {"name": "pts"}, "transform": [{"filter": "datum.s == 'N'"}],
 "mark": {"type": "point", "filled": true, "size": 361, "stroke": "#000", "strokeWidth": 1, "opacity": 1},
 "encoding": {
  "x": {"field": "v", "type": "quantitative", "title": "Gait Speed (m/s)"},
  "y": {"field": "a", "type": "quantitative", "title": "Intersegmental Area (deg²)"},
  "fill": {"field": "g", "type": "nominal", "scale": {"domain": ["LF","HF","CG","bar"], "range": ["#263b73","#8dae2e","#8b38c7","#d9d9d9"]},
        "legend": {"title": "Non-dominant/Paretic", "orient": "none", "legendX": -645, "legendY": 596, "direction": "horizontal", "padding": 0, "titleFontSize": 39, "titleFontWeight": 600, "titlePadding": 14, "titleLimit": 1000, "labelFontSize": 36, "labelFontWeight": 500, "labelOffset": 11, "columnPadding": 1, "symbolSize": 625, "symbolStrokeColor": "#000", "symbolStrokeWidth": 1.5, "symbolOpacity": 1, "labelExpr": "datum.label == 'bar' ? '' : datum.label", "encode": {"symbols": {"update": {"size": {"value": 625}}}}}},
  "shape": {"field": "g", "type": "nominal", "scale": {"domain": ["LF","HF","CG","bar"], "range": ["circle","circle","circle","M-1,-1.2H3.88V1.2H-1Z"]},
        "legend": {"title": "Non-dominant/Paretic", "orient": "none", "legendX": -645, "legendY": 596, "direction": "horizontal", "padding": 0, "titleFontSize": 39, "titleFontWeight": 600, "titlePadding": 14, "titleLimit": 1000, "labelFontSize": 36, "labelFontWeight": 500, "labelOffset": 11, "columnPadding": 1, "symbolSize": 625, "symbolStrokeColor": "#000", "symbolStrokeWidth": 1.5, "symbolOpacity": 1, "labelExpr": "datum.label == 'bar' ? '' : datum.label", "encode": {"symbols": {"update": {"size": {"value": 625}}}}}}}},
{"data": {"name": "fits"},
 "mark": {"type": "line", "strokeWidth": 10, "strokeCap": "butt"},
 "encoding": {
  "x": {"field": "v", "type": "quantitative", "title": "Gait Speed (m/s)"},
  "y": {"field": "a", "type": "quantitative", "title": "Intersegmental Area (deg²)"},
  "stroke": {"field": "fit", "type": "nominal", "scale": {"domain": ["Non-dominant / paretic, r = 0.96, p<0.01", "Dominant / Non-paretic, r = 0.94, p<0.01"], "range": ["#c8c8c8", "#4d4d4d"]},
        "legend": {"title": null, "orient": "none", "legendX": 14, "legendY": 24, "padding": 0, "symbolType": "M-1,0H7", "symbolSize": 400, "symbolStrokeWidth": 10, "labelOffset": 63, "labelFontSize": 30, "labelFontWeight": 600, "rowPadding": 7, "labelLimit": 0}}}},
{"data": {"values": [{"t": "D"}]},
 "mark": {"type": "text", "fontSize": 40, "fontWeight": 900, "baseline": "alphabetic", "dy": 14, "align": "center"},
 "encoding": {"x": {"datum": -0.41, "type": "quantitative"}, "y": {"datum": 57.0, "type": "quantitative"}, "text": {"field": "t"}}}
],
"resolve": {"scale": {"fill": "independent", "shape": "independent", "stroke": "independent"}, "legend": {"stroke": "independent"}}
}
]
}
]
}
